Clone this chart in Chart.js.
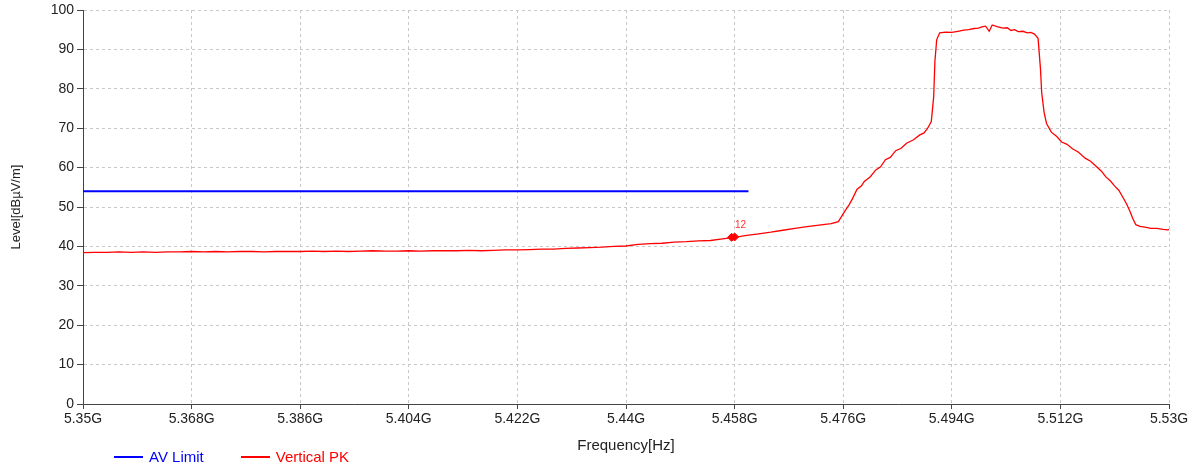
<!DOCTYPE html>
<html>
<head>
<meta charset="utf-8">
<script src="https://cdn.jsdelivr.net/npm/chart.js@4"></script>
<style>
    body { margin: 0; background: #fff; font-family: "Liberation Sans", Arial, sans-serif; }
    #wrap { position: relative; width: 1199px; height: 468px; }
    #legend { position: absolute; top: 448px; left: 114px; font-size: 15px; display: flex; }
    #legend span.item { display: flex; align-items: center; margin-right: 37px; }
    #legend span.line { display: inline-block; width: 29px; height: 2px; margin-right: 6px; }
</style>
</head>
<body>
<div id="wrap">
    <canvas id="emiChart"></canvas>
    <div id="legend"></div>
</div>
<script>
const xTicks = [5.35, 5.368, 5.386, 5.404, 5.422, 5.44, 5.458, 5.476, 5.494, 5.512, 5.53];
const yTicks = [0, 10, 20, 30, 40, 50, 60, 70, 80, 90, 100];

const seriesNames = ["AV Limit", "Vertical PK"];
const seriesColors = ["#0000ff", "#ff0000"];

const limitFreq = [5.35, 5.4603];
const limitLevel = [54, 54];

const pkFreq = [
    5.350, 5.352, 5.354, 5.356, 5.358, 5.360, 5.362, 5.364, 5.366, 5.368,
    5.370, 5.372, 5.374, 5.376, 5.378, 5.380, 5.382, 5.384, 5.386, 5.388,
    5.390, 5.392, 5.394, 5.396, 5.398, 5.400, 5.402, 5.404, 5.406, 5.408,
    5.410, 5.412, 5.414, 5.416, 5.418, 5.420, 5.422, 5.424, 5.426, 5.428,
    5.430, 5.432, 5.434, 5.436, 5.438, 5.440, 5.442, 5.444, 5.446, 5.448,
    5.450, 5.452, 5.454, 5.456, 5.458, 5.460, 5.462, 5.464, 5.466, 5.468,
    5.470, 5.472, 5.474, 5.4752, 5.4763, 5.4770, 5.4775, 5.4783, 5.4790, 5.4795,
    5.4805, 5.4814, 5.4822, 5.4830, 5.4838, 5.4847, 5.4856, 5.4865, 5.4876, 5.4887,
    5.4894, 5.4900, 5.4906, 5.4910, 5.4912, 5.4915, 5.4920, 5.4930,
    5.4940, 5.4950, 5.4960, 5.4968, 5.4977, 5.4984, 5.4990, 5.4996, 5.5002, 5.5007,
    5.5015, 5.5025, 5.5032, 5.5038, 5.5044, 5.5050, 5.5058, 5.5065, 5.5071, 5.5077,
    5.5083, 5.5087, 5.5089, 5.5093, 5.5097, 5.5105, 5.5114, 5.5122, 5.5131, 5.5140,
    5.5150, 5.5161, 5.5170, 5.5180, 5.5188, 5.5195, 5.5203, 5.5210, 5.5217, 5.5223,
    5.5230, 5.5235, 5.5240, 5.5245, 5.5252, 5.5260, 5.5270, 5.5280, 5.5290, 5.5298,
    5.5300
];
const pkLevel = [
    38.4, 38.5, 38.5, 38.6, 38.5, 38.6, 38.5, 38.6, 38.6, 38.7,
    38.6, 38.7, 38.6, 38.7, 38.7, 38.6, 38.7, 38.7, 38.7, 38.8,
    38.7, 38.8, 38.7, 38.8, 38.9, 38.8, 38.8, 38.9, 38.8, 38.9,
    38.9, 38.9, 39.0, 38.9, 39.0, 39.1, 39.1, 39.2, 39.3, 39.3,
    39.5, 39.6, 39.7, 39.8, 40.0, 40.1, 40.5, 40.7, 40.8, 41.1,
    41.2, 41.4, 41.5, 41.9, 42.3, 42.8, 43.2, 43.6, 44.1, 44.6,
    45.0, 45.4, 45.8, 46.3, 49.0, 50.6, 52.0, 54.5, 55.3, 56.5,
    57.7, 59.4, 60.2, 62.0, 62.6, 64.3, 64.9, 66.2, 67.0, 68.3,
    68.8, 70.0, 71.7, 78.0, 87.0, 92.5, 94.2, 94.4,
    94.3, 94.6, 94.9, 95.0, 95.3, 95.4, 95.7, 95.9, 94.6, 96.2,
    95.8, 95.4, 95.5, 94.8, 95.0, 94.5, 94.6, 94.2, 94.3, 93.9,
    92.8, 85.0, 79.0, 74.0, 71.2, 69.0, 67.9, 66.5, 65.9, 64.8,
    63.9, 62.4, 61.6, 60.2, 59.1, 57.7, 56.6, 55.3, 54.2, 52.6,
    50.7, 49.0, 47.1, 45.5, 45.1, 44.9, 44.6, 44.6, 44.3, 44.2,
    44.3
];

const markerFreq = [5.4575, 5.4580];
const markerLevel = [42.3, 42.4];
const markerText = "12";

function toPoints(xs, ys) {
    return xs.map((x, i) => ({ x: x, y: ys[i] }));
}

const markerLabel = {
    id: "markerLabel",
    afterDatasetsDraw(chart) {
        const meta = chart.getDatasetMeta(2);
        const pt = meta.data[meta.data.length - 1];
        if (!pt) return;
        const ctx = chart.ctx;
        ctx.save();
        ctx.fillStyle = "#ff3030";
        ctx.font = "10px 'Liberation Sans', Arial, sans-serif";
        ctx.textAlign = "center";
        ctx.textBaseline = "bottom";
        ctx.fillText(markerText, pt.x + 6, pt.y - 7);
        ctx.restore();
    }
};

const axisFont = { family: "'Liberation Sans', Arial, sans-serif", size: 14 };

new Chart(document.getElementById("emiChart"), {
    type: "line",
    data: {
        datasets: [{
            label: seriesNames[0],
            data: toPoints(limitFreq, limitLevel),
            borderColor: seriesColors[0],
            borderWidth: 2,
            pointRadius: 0
        }, {
            label: seriesNames[1],
            data: toPoints(pkFreq, pkLevel),
            borderColor: seriesColors[1],
            borderWidth: 1.3,
            pointRadius: 0
        }, {
            label: "marker",
            data: toPoints(markerFreq, markerLevel),
            showLine: false,
            pointStyle: "rectRot",
            pointRadius: 4,
            backgroundColor: seriesColors[1],
            borderColor: seriesColors[1]
        }]
    },
    options: {
        responsive: true,
        maintainAspectRatio: false,
        animation: false,
        layout: { padding: { top: 10, right: 30, bottom: 13, left: 0 } },
        plugins: {
            legend: { display: false },
            tooltip: { enabled: false }
        },
        scales: {
            x: {
                type: "linear",
                min: 5.35,
                max: 5.53,
                afterBuildTicks: s => { s.ticks = xTicks.map(v => ({ value: v })); },
                afterFit: s => { s.height = 51; s.paddingLeft = 0; s.paddingRight = 0; },
                ticks: {
                    color: "#222",
                    font: axisFont,
                    padding: 2,
                    maxRotation: 0,
                    autoSkip: false,
                    callback: v => v + "G"
                },
                grid: { color: "#c8c8c8", tickColor: "#444", tickLength: 5 },
                border: { color: "#444", width: 1, dash: [3, 3] },
                title: {
                    display: true,
                    text: "Frequency[Hz]",
                    color: "#222",
                    font: { family: "'Liberation Sans', Arial, sans-serif", size: 15 },
                    padding: 0
                }
            },
            y: {
                min: 0,
                max: 100,
                afterBuildTicks: s => { s.ticks = yTicks.map(v => ({ value: v })); },
                afterFit: s => { s.width = 83; s.paddingTop = 0; s.paddingBottom = 0; },
                ticks: { color: "#222", font: axisFont, padding: 3 },
                grid: { color: "#c8c8c8", tickColor: "#444", tickLength: 6 },
                border: { color: "#444", width: 1, dash: [3, 3] },
                title: {
                    display: true,
                    text: "Level[dBµV/m]",
                    color: "#222",
                    font: { family: "'Liberation Sans', Arial, sans-serif", size: 13 },
                    padding: { top: 9, bottom: 0 }
                }
            }
        }
    },
    plugins: [markerLabel]
});

const legend = document.getElementById("legend");
seriesNames.forEach((name, i) => {
    const item = document.createElement("span");
    item.className = "item";
    const line = document.createElement("span");
    line.className = "line";
    line.style.background = seriesColors[i];
    const text = document.createElement("span");
    text.textContent = name;
    text.style.color = seriesColors[i];
    item.appendChild(line);
    item.appendChild(text);
    legend.appendChild(item);
});
</script>
</body>
</html>
